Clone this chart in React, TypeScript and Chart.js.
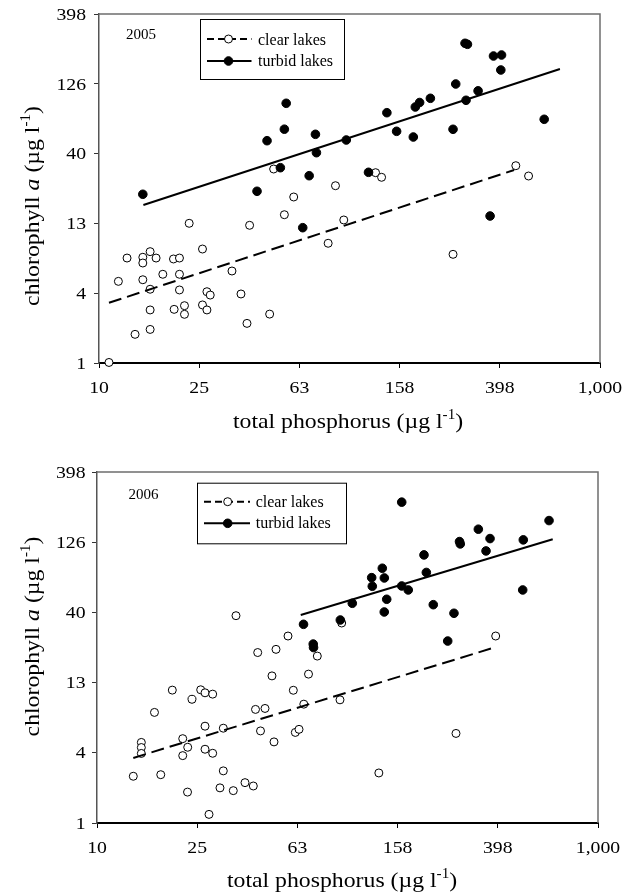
import React, { useEffect, useRef } from 'react';
import { Chart, registerables } from 'chart.js';

Chart.register(...registerables);

// ---------- axis ticks ----------
const xTickValues = [10, 25.119, 63.096, 158.49, 398.11, 1000];
const xTickLabels = ['10', '25', '63', '158', '398', '1,000'];
const yTickValues = [1.2589, 3.9811, 12.589, 39.811, 125.89, 398.11];
const yTickLabels = ['1', '4', '13', '40', '126', '398'];

// ---------- 2005 ----------
const tpClear2005 = [10.96, 11.95, 12.94, 14.96, 14.96, 16.0, 16.9, 14.96, 16.0, 16.0, 16.0, 13.93, 17.98, 19.83, 20.95, 20.95, 20.95, 19.95, 21.94, 21.94, 22.91, 25.89, 26.97, 27.8, 25.89, 26.97, 33.95, 36.88, 38.97, 39.92, 48.0, 54.95, 59.88, 49.8, 82.18, 94.89, 87.9, 127.1, 134.3, 259.0, 461.3, 518.6];
const chlClear2005 = [1.27, 4.84, 7.11, 7.2, 6.55, 7.9, 7.11, 4.97, 4.25, 3.02, 2.19, 2.02, 5.44, 7.0, 7.11, 5.44, 4.2, 3.05, 3.24, 2.81, 12.61, 8.25, 4.08, 3.86, 3.28, 3.02, 5.74, 3.93, 2.42, 12.2, 2.82, 14.53, 19.46, 30.88, 9.07, 13.32, 23.44, 29.06, 26.93, 7.56, 32.61, 27.51];
const tpTurbid2005 = [14.96, 42.74, 46.86, 52.97, 54.95, 55.88, 65.06, 69.02, 73.11, 73.79, 97.1, 119.1, 141.0, 154.2, 179.8, 183.1, 190.5, 210.3, 259.0, 265.5, 289.2, 295.7, 291.9, 326.1, 375.7, 404.5, 401.8, 598.7, 364.1];
const chlTurbid2005 = [20.35, 21.38, 49.25, 31.55, 59.54, 91.27, 11.73, 27.65, 54.73, 40.41, 49.82, 29.24, 78.16, 57.5, 52.34, 85.87, 92.47, 99.1, 59.44, 125.5, 245.5, 241.5, 95.9, 112.1, 199.1, 202.4, 158.1, 70.1, 14.22];
const fitClearX2005 = [10.96, 454.2];
const fitClearY2005 = [3.4, 30.37];
const fitTurbidX2005 = [15.04, 691.8];
const fitTurbidY2005 = [17.05, 160.7];

// ---------- 2006 ----------
const tpClear2006 = [13.96, 15.03, 15.03, 15.03, 16.96, 17.97, 19.98, 21.99, 21.99, 23.02, 22.98, 23.94, 25.94, 26.99, 28.96, 26.99, 26.99, 28.96, 28.0, 31.93, 31.93, 30.97, 35.0, 38.98, 42.07, 42.93, 46.85, 44.95, 50.89, 43.81, 51.83, 49.95, 60.77, 66.92, 61.9, 64.04, 69.88, 75.76, 35.88, 57.88, 93.33, 94.8, 133.4, 271.1, 390.5];
const chlClear2006 = [2.71, 4.72, 4.34, 3.94, 7.72, 2.78, 11.13, 5.02, 3.8, 4.36, 2.09, 9.57, 11.19, 10.65, 10.42, 6.16, 4.22, 3.95, 1.45, 5.96, 2.96, 2.24, 2.14, 2.44, 2.31, 8.11, 8.24, 5.7, 4.76, 20.61, 21.72, 14.05, 11.1, 8.84, 5.56, 5.85, 14.47, 19.45, 37.72, 27.02, 9.49, 33.45, 2.86, 5.47, 27.02];
const tpTurbid2006 = [66.75, 72.98, 73.18, 93.61, 104.5, 124.9, 125.6, 137.7, 140.3, 140.2, 143.4, 164.6, 164.6, 174.8, 202.0, 206.4, 220.0, 251.2, 266.1, 280.0, 282.0, 332.9, 357.3, 370.7, 500.5, 503.3, 637.6];
const chlTurbid2006 = [32.74, 23.69, 22.37, 35.14, 46.23, 70.39, 61.12, 82.13, 70.04, 40.09, 49.37, 242.8, 61.42, 57.52, 102.2, 76.65, 45.18, 24.89, 39.24, 127.2, 122.4, 155.8, 109.1, 133.6, 57.52, 130.8, 179.5];
const fitClearX2006 = [13.96, 376.4];
const fitClearY2006 = [3.66, 22.08];
const fitTurbidX2006 = [65.06, 659.5];
const fitTurbidY2006 = [38.15, 132.3];

const SERIF = '"Liberation Serif", "Times New Roman", serif';

const zip = (xs: number[], ys: number[]) => xs.map((x, i) => ({ x, y: ys[i] }));

type Part = { t: string; font: string; dy?: number };

function partsWidth(ctx: CanvasRenderingContext2D, parts: Part[]) {
  let w = 0;
  for (const p of parts) {
    ctx.font = p.font;
    w += ctx.measureText(p.t).width;
  }
  return w;
}

function drawParts(ctx: CanvasRenderingContext2D, parts: Part[], x: number, y: number) {
  let cx = x;
  for (const p of parts) {
    ctx.font = p.font;
    ctx.fillText(p.t, cx, y + (p.dy || 0));
    cx += ctx.measureText(p.t).width;
  }
}

function drawTitle(ctx: CanvasRenderingContext2D, parts: Part[], cx: number, cy: number, rotate: boolean, stretch: number) {
  ctx.save();
  ctx.translate(cx, cy);
  if (rotate) ctx.rotate(-Math.PI / 2);
  ctx.scale(stretch, 1);
  ctx.fillStyle = '#000';
  ctx.textAlign = 'left';
  ctx.textBaseline = 'alphabetic';
  const w = partsWidth(ctx, parts);
  drawParts(ctx, parts, -w / 2, 0);
  ctx.restore();
}

function drawStretched(ctx: CanvasRenderingContext2D, text: string, x: number, y: number, align: CanvasTextAlign, stretch: number) {
  ctx.save();
  ctx.translate(x, y);
  ctx.scale(stretch, 1);
  ctx.textAlign = align;
  ctx.textBaseline = 'alphabetic';
  ctx.fillText(text, 0, 0);
  ctx.restore();
}

const big = `22px ${SERIF}`;
const sup = `14px ${SERIF}`;
const xTitleParts: Part[] = [
  { t: 'total phosphorus (\u00B5g l', font: big },
  { t: '-1', font: sup, dy: -9 },
  { t: ')', font: big },
];
const yTitleParts: Part[] = [
  { t: 'chlorophyll ', font: big },
  { t: 'a', font: `italic 22px ${SERIF}` },
  { t: ' (\u00B5g l', font: big },
  { t: '-1', font: sup, dy: -9 },
  { t: ')', font: big },
];

const decorPlugin = {
  id: 'decor',
  beforeDatasetsDraw(chart: any) {
    const { ctx, chartArea } = chart;
    ctx.save();
    ctx.strokeStyle = '#6e6e6e';
    ctx.lineWidth = 1.5;
    ctx.beginPath();
    ctx.moveTo(chartArea.left, chartArea.top);
    ctx.lineTo(chartArea.right, chartArea.top);
    ctx.lineTo(chartArea.right, chartArea.bottom);
    ctx.stroke();
    ctx.restore();
  },
  afterDraw(chart: any, _args: any, o: any) {
    const ctx: CanvasRenderingContext2D = chart.ctx;
    const xs = chart.scales.x;
    const ys = chart.scales.y;
    ctx.save();
    ctx.fillStyle = '#000';

    // tick labels placed through the chart's scales
    ctx.font = `17px ${SERIF}`;
    xTickValues.forEach((v, i) => {
      drawStretched(ctx, xTickLabels[i], xs.getPixelForValue(v), xs.top + 29.5, 'center', 1.16);
    });
    yTickValues.forEach((v, i) => {
      drawStretched(ctx, yTickLabels[i], ys.right - o.yLabelGap, ys.getPixelForValue(v) + 5.7, 'right', 1.16);
    });

    // year label
    ctx.font = `15px ${SERIF}`;
    ctx.textAlign = 'left';
    ctx.textBaseline = 'alphabetic';
    ctx.fillText(o.year, o.yearX, o.yearY);

    // legend
    const L = o.legend;
    ctx.fillStyle = '#fff';
    ctx.fillRect(L.x1, L.y1, L.x2 - L.x1, L.y2 - L.y1);
    ctx.strokeStyle = '#000';
    ctx.lineWidth = 1;
    ctx.strokeRect(L.x1 + 0.5, L.y1 + 0.5, L.x2 - L.x1, L.y2 - L.y1);
    L.rows.forEach((r: any, i: number) => {
      ctx.save();
      ctx.strokeStyle = '#000';
      ctx.lineWidth = 2;
      if (i === 0) ctx.setLineDash([7, 4]);
      ctx.beginPath();
      ctx.moveTo(L.lx1, r.ly);
      ctx.lineTo(L.lx2, r.ly);
      ctx.stroke();
      ctx.setLineDash([]);
      ctx.beginPath();
      ctx.arc(L.mx, r.ly, i === 0 ? 4 : 4.3, 0, Math.PI * 2);
      ctx.fillStyle = i === 0 ? '#fff' : '#000';
      ctx.fill();
      ctx.lineWidth = 1;
      ctx.stroke();
      ctx.restore();
      ctx.fillStyle = '#000';
      ctx.font = `16px ${SERIF}`;
      ctx.textAlign = 'left';
      ctx.textBaseline = 'alphabetic';
      ctx.fillText(r.text, L.tx, r.ty);
    });
    ctx.restore();

    drawTitle(ctx, xTitleParts, o.xTitleX, o.xTitleY, false, 1.08);
    drawTitle(ctx, yTitleParts, o.yTitleX, o.yTitleY, true, 1.08);
  },
};

function makeConfig(p: any) {
  return {
    type: 'scatter',
    data: {
      datasets: [
        {
          label: 'clear fit',
          data: zip(p.fitClearX, p.fitClearY),
          showLine: true,
          borderColor: '#000',
          borderWidth: 2,
          borderDash: [13, 6],
          pointRadius: 0,
          fill: false,
          clip: false,
          order: 0,
        },
        {
          label: 'turbid fit',
          data: zip(p.fitTurbidX, p.fitTurbidY),
          showLine: true,
          borderColor: '#000',
          borderWidth: 2,
          pointRadius: 0,
          fill: false,
          clip: false,
          order: 0,
        },
        {
          label: 'turbid lakes',
          data: zip(p.tpTurbid, p.chlTurbid),
          pointRadius: 4.3,
          pointBackgroundColor: '#000',
          pointBorderColor: '#000',
          pointBorderWidth: 1,
          clip: false,
          order: 1,
        },
        {
          label: 'clear lakes',
          data: zip(p.tpClear, p.chlClear),
          pointRadius: 4,
          pointBackgroundColor: '#fff',
          pointBorderColor: '#000',
          pointBorderWidth: 1,
          clip: false,
          order: 2,
        },
      ],
    },
    options: {
      animation: false,
      responsive: false,
      events: [],
      layout: { padding: p.padding },
      plugins: {
        legend: { display: false },
        tooltip: { enabled: false },
        decor: p.decor,
      },
      scales: {
        x: {
          type: 'logarithmic',
          min: 10,
          max: 1000,
          afterBuildTicks: (s: any) => {
            s.ticks = xTickValues.map((v) => ({ value: v }));
          },
          afterFit: (s: any) => {
            s.height = 40;
            s.paddingLeft = 0;
            s.paddingRight = 0;
            s.paddingTop = 0;
            s.paddingBottom = 0;
          },
          ticks: { display: false, autoSkip: false },
          grid: { drawOnChartArea: false, drawTicks: true, tickLength: 5, color: '#000', lineWidth: 1 },
          border: { display: true, color: '#000', width: 2 },
        },
        y: {
          type: 'logarithmic',
          min: yTickValues[0],
          max: yTickValues[yTickValues.length - 1],
          afterBuildTicks: (s: any) => {
            s.ticks = yTickValues.map((v) => ({ value: v }));
          },
          afterFit: (s: any) => {
            s.width = p.yWidth;
            s.paddingLeft = 0;
            s.paddingRight = 0;
            s.paddingTop = 0;
            s.paddingBottom = 0;
          },
          ticks: { display: false, autoSkip: false },
          grid: { drawOnChartArea: false, drawTicks: true, tickLength: 5, color: '#333', lineWidth: 1 },
          border: { display: true, color: '#555', width: 1.5 },
        },
      },
    },
    plugins: [decorPlugin],
  };
}

function Panel(props: { top: number; height: number; params: any }) {
  const ref = useRef<HTMLCanvasElement | null>(null);
  useEffect(() => {
    if (!ref.current) return;
    const chart = new Chart(ref.current, makeConfig(props.params) as any);
    return () => chart.destroy();
  }, []);
  return (
    <canvas
      ref={ref}
      width={632}
      height={props.height}
      style={{ position: 'absolute', left: 0, top: props.top, width: 632, height: props.height }}
    />
  );
}

const params2005 = {
  tpClear: tpClear2005,
  chlClear: chlClear2005,
  tpTurbid: tpTurbid2005,
  chlTurbid: chlTurbid2005,
  fitClearX: fitClearX2005,
  fitClearY: fitClearY2005,
  fitTurbidX: fitTurbidX2005,
  fitTurbidY: fitTurbidY2005,
  padding: { left: 0, right: 32, top: 14, bottom: 43 },
  yWidth: 99,
  decor: {
    yLabelGap: 13,
    year: '2005',
    yearX: 126,
    yearY: 38.5,
    legend: {
      x1: 200, y1: 19, x2: 344, y2: 79,
      lx1: 207, lx2: 251.5, mx: 228.5, tx: 258,
      rows: [
        { text: 'clear lakes', ly: 39, ty: 44.5 },
        { text: 'turbid lakes', ly: 61, ty: 65.5 },
      ],
    },
    xTitleX: 348,
    xTitleY: 428,
    yTitleX: 39,
    yTitleY: 206,
  },
};

const params2006 = {
  tpClear: tpClear2006,
  chlClear: chlClear2006,
  tpTurbid: tpTurbid2006,
  chlTurbid: chlTurbid2006,
  fitClearX: fitClearX2006,
  fitClearY: fitClearY2006,
  fitTurbidX: fitTurbidX2006,
  fitTurbidY: fitTurbidY2006,
  padding: { left: 0, right: 34, top: 26, bottom: 30 },
  yWidth: 97,
  decor: {
    yLabelGap: 11.5,
    year: '2006',
    yearX: 128.5,
    yearY: 53.3,
    legend: {
      x1: 197, y1: 36.7, x2: 346, y2: 97.3,
      lx1: 204, lx2: 250, mx: 227.7, tx: 255.7,
      rows: [
        { text: 'clear lakes', ly: 55.7, ty: 60.7 },
        { text: 'turbid lakes', ly: 77.3, ty: 82.3 },
      ],
    },
    xTitleX: 342,
    xTitleY: 440.7,
    yTitleX: 39,
    yTitleY: 190.5,
  },
};

export default function App() {
  return (
    <div style={{ position: 'absolute', left: 0, top: 0, width: 632, height: 893, background: '#fff', overflow: 'hidden' }}>
      <Panel top={0} height={446} params={params2005} />
      <Panel top={446} height={447} params={params2006} />
    </div>
  );
}
